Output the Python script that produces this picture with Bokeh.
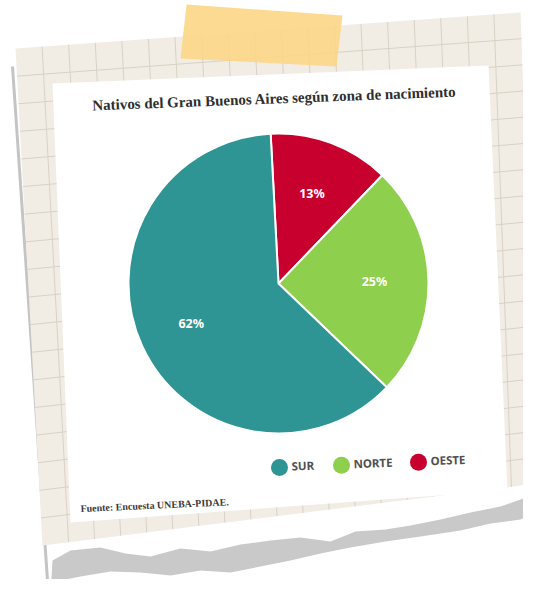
import math
from bokeh.plotting import figure
from bokeh.models import Range1d
from bokeh.core.properties import value
from bokeh.embed import file_html
from bokeh.resources import INLINE

# ---- data ----
title = "Nativos del Gran Buenos Aires según zona de nacimiento"
source_note = "Fuente: Encuesta UNEBA-PIDAE."
zones = ["SUR", "NORTE", "OESTE"]
shares = [62, 25, 13]
zone_colors = ["#2e9494", "#8ecf4d", "#c8002e"]
pie_order = ["OESTE", "NORTE", "SUR"]  # clockwise from the top

# ---- layout helpers (page pixel coordinates -> data) ----
PAGE_H = 595


def Y(v):
    if isinstance(v, (list, tuple)):
        return [PAGE_H - t for t in v]
    return PAGE_H - v


p = figure(width=523, height=579, x_range=Range1d(0, 523), y_range=Range1d(16, 595),
           output_backend="svg", toolbar_location=None, min_border=0,
           x_axis_location=None, y_axis_location=None)
p.grid.visible = False
p.outline_line_color = None
p.background_fill_color = "white"
p.border_fill_color = "white"

# ---- decorative notebook paper ----
TL, TR, BR, BL = (15, 48), (520, 12), (537, 483), (42, 545)


def bil(u, v):
    x = (1-u)*(1-v)*TL[0] + u*(1-v)*TR[0] + u*v*BR[0] + (1-u)*v*BL[0]
    y = (1-u)*(1-v)*TL[1] + u*(1-v)*TR[1] + u*v*BR[1] + (1-u)*v*BL[1]
    return x, y


# shadow on left edge
p.line(x=[12, 48], y=Y([66, 595]), line_color="#c4c4c4", line_width=3)

p.patch(x=[TL[0], TR[0], BR[0], BL[0]], y=Y([TL[1], TR[1], BR[1], BL[1]]),
        fill_color="#f1ede5", line_color=None)

NU, NV = 19, 18
gx0, gy0, gx1, gy1 = [], [], [], []
for k in range(1, NU):
    u = k / NU
    a = bil(u, 0)
    b = bil(u, 1)
    gx0.append(a[0]); gy0.append(Y(a[1])); gx1.append(b[0]); gy1.append(Y(b[1]))
for k in range(1, NV):
    v = k / NV
    a = bil(0, v)
    b = bil(1, v)
    gx0.append(a[0]); gy0.append(Y(a[1])); gx1.append(b[0]); gy1.append(Y(b[1]))
p.segment(x0=gx0, y0=gy0, x1=gx1, y1=gy1, line_color="#d8d1c5", line_width=1)

# torn grey strip
torn_top = [(52, 560), (70, 550), (100, 547), (125, 553), (150, 556), (180, 548),
            (210, 551), (240, 544), (270, 540), (300, 537), (330, 541), (355, 531),
            (385, 529), (410, 525), (440, 519), (470, 512), (500, 506), (520, 499), (539, 491)]
torn_bot = [(539, 512), (520, 519), (490, 523), (460, 530), (420, 536), (385, 541),
            (350, 547), (320, 553), (290, 560), (260, 566), (230, 572), (200, 570),
            (170, 575), (140, 572), (110, 571), (80, 576), (60, 580), (50, 595)]
pts = torn_top + torn_bot
p.patch(x=[q[0] for q in pts], y=Y([q[1] for q in pts]), fill_color="#c9c9c9", line_color=None)

# tape
p.patch(x=[186, 342, 336, 180], y=Y([4, 15, 66, 58]), fill_color="#fcd686",
        fill_alpha=0.9, line_color=None)

# white card
p.patch(x=[52, 488, 507, 70], y=Y([83, 65, 490, 522]), fill_color="#ffffff", line_color=None)

TILT = 0.038  # card rotation (radians, counter-clockwise)

# ---- title ----
p.text(x=[274], y=[Y(98)], text=[title], angle=TILT,
       text_font=value("Liberation Serif"), text_font_style="bold",
       text_font_size="15px", text_color="#2e2e2e",
       text_align="center", text_baseline="middle")

# ---- pie ----
cx, cy, R = 278, Y(283), 150
total = float(sum(shares))
a0 = math.radians(93)
starts, ends, cols, labels, lx, ly = [], [], [], [], [], []
acc = 0.0
for z in pie_order:
    i = zones.index(z)
    s = a0 - 2*math.pi*acc/total
    acc += shares[i]
    e = a0 - 2*math.pi*acc/total
    starts.append(s); ends.append(e); cols.append(zone_colors[i])
    labels.append(f"{shares[i]}%")
    m = (s + e) / 2
    lx.append(cx + 0.64*R*math.cos(m))
    ly.append(cy + 0.64*R*math.sin(m))

p.wedge(x=cx, y=cy, radius=R, start_angle=starts, end_angle=ends, direction="clock",
        fill_color=cols, line_color="white", line_width=2)
p.text(x=lx, y=ly, text=labels, text_color="white", text_font=value("Noto Sans"),
       text_font_style="bold", text_font_size="12.5px",
       text_align="center", text_baseline="middle")

# ---- legend ----
leg_x = [279, 341, 418]
leg_y0 = 467
dx_, dy_, tx_, ty_ = [], [], [], []
for xk in leg_x:
    yk = leg_y0 - (xk - leg_x[0]) * math.tan(TILT)
    dx_.append(xk); dy_.append(Y(yk))
    tx_.append(xk + 12); ty_.append(Y(yk - 1.5))
p.scatter(x=dx_, y=dy_, size=17, marker="circle", fill_color=zone_colors, line_color=None)
p.text(x=tx_, y=ty_, text=zones, angle=TILT, text_color="#505050",
       text_font=value("Noto Sans"), text_font_style="bold", text_font_size="11.5px",
       text_align="left", text_baseline="middle")

# ---- source ----
p.text(x=[80], y=[Y(508)], text=[source_note], angle=0.045, text_color="#3a3a3a",
       text_font=value("Liberation Serif"), text_font_style="bold",
       text_font_size="10px", text_align="left", text_baseline="middle")

open("out.html", "w").write(file_html(p, INLINE))
